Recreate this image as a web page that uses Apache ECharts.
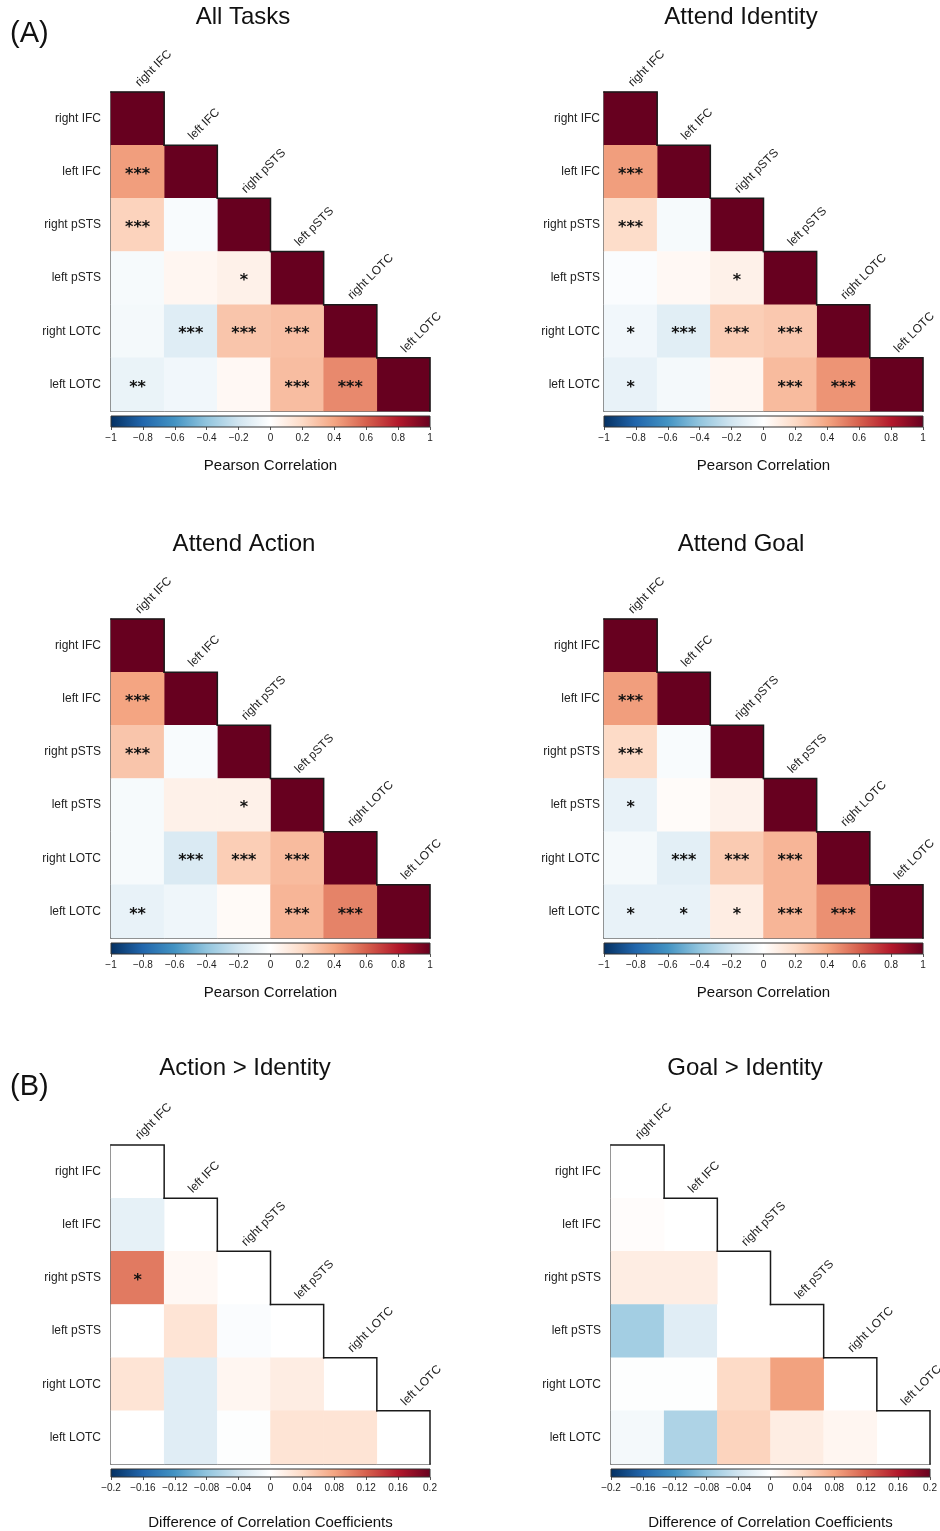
<!DOCTYPE html>
<html>
<head>
<meta charset="utf-8">
<title>ROI correlation matrices</title>
<script src="https://cdn.jsdelivr.net/npm/echarts@6/dist/echarts.min.js"></script>
<style>
  html, body { margin: 0; padding: 0; background: #fff; }
  #chart { width: 940px; height: 1531px; }
</style>
</head>
<body>
<div id="chart"></div>
<script>
// Regions of interest (rows top-to-bottom, columns left-to-right)
const regions = ['right IFC', 'left IFC', 'right pSTS', 'left pSTS', 'right LOTC', 'left LOTC'];

// Lower-triangle Pearson correlations: row k lists columns 0..k-1 (rows start at "left IFC")
const allTasksR = [
  [0.42],
  [0.23, -0.03],
  [-0.04, 0.05, 0.08],
  [-0.05, -0.14, 0.28, 0.30],
  [-0.09, -0.06, 0.04, 0.31, 0.48]
];
const allTasksSig = [['***'], ['***', ''], ['', '', '*'], ['', '***', '***', '***'], ['**', '', '', '***', '***']];

const identityR = [
  [0.42],
  [0.19, -0.04],
  [-0.02, 0.04, 0.08],
  [-0.06, -0.13, 0.25, 0.27],
  [-0.10, -0.05, 0.05, 0.32, 0.45]
];
const identitySig = [['***'], ['***', ''], ['', '', '*'], ['*', '***', '***', '***'], ['*', '', '', '***', '***']];

const actionR = [
  [0.40],
  [0.28, -0.03],
  [-0.04, 0.08, 0.08],
  [-0.04, -0.16, 0.25, 0.32],
  [-0.10, -0.07, 0.03, 0.34, 0.50]
];
const actionSig = [['***'], ['***', ''], ['', '', '*'], ['', '***', '***', '***'], ['**', '', '', '***', '***']];

const goalR = [
  [0.42],
  [0.20, -0.03],
  [-0.10, 0.02, 0.07],
  [-0.05, -0.12, 0.26, 0.34],
  [-0.10, -0.10, 0.10, 0.34, 0.46]
];
const goalSig = [['***'], ['***', ''], ['*', '', ''], ['', '***', '***', '***'], ['*', '*', '*', '***', '***']];

// Differences of correlation coefficients between task conditions
const actionMinusIdentity = [
  [-0.022],
  [0.105, 0.008],
  [0.0, 0.03, -0.004],
  [0.03, -0.027, 0.01, 0.02],
  [0.0, -0.027, -0.002, 0.03, 0.03]
];
const actionMinusIdentitySig = [[''], ['*', ''], ['', '', ''], ['', '', '', ''], ['', '', '', '', '']];

const goalMinusIdentity = [
  [0.003],
  [0.02, 0.02],
  [-0.069, -0.027, 0.0],
  [-0.002, -0.002, 0.04, 0.082],
  [-0.01, -0.062, 0.045, 0.02, 0.01]
];
const goalMinusIdentitySig = [[''], ['', ''], ['', '', ''], ['', '', '', ''], ['', '', '', '', '']];

// Colour-bar scales and their tick steps
const corrScale = [-1, 1];
const corrStep = 0.2;
const corrDiagonal = 1;
const diffScale = [-0.2, 0.2];
const diffStep = 0.04;
const diffDiagonal = 0;

// Diverging palette, negative to positive
const palette = ['#053061', '#2166AC', '#4393C3', '#92C5DE', '#D1E5F0', '#FFFFFF',
                 '#FDDBC7', '#F4A582', '#D6604D', '#B2182B', '#67001F'];

const FONT = '"Liberation Sans", Arial, Helvetica, sans-serif';

const panels = [
  { title: 'All Tasks', values: allTasksR, sig: allTasksSig, kind: 'corr',
    left: 111, top: 92, labelMargin: 10, titleX: 243, titleY: 17, cbTop: 416, nameGap: 31 },
  { title: 'Attend Identity', values: identityR, sig: identitySig, kind: 'corr',
    left: 604, top: 92, labelMargin: 4, titleX: 741, titleY: 17, cbTop: 416, nameGap: 31 },
  { title: 'Attend Action', values: actionR, sig: actionSig, kind: 'corr',
    left: 111, top: 619, labelMargin: 10, titleX: 244, titleY: 544, cbTop: 943, nameGap: 31 },
  { title: 'Attend Goal', values: goalR, sig: goalSig, kind: 'corr',
    left: 604, top: 619, labelMargin: 4, titleX: 741, titleY: 544, cbTop: 943, nameGap: 31 },
  { title: 'Action > Identity', values: actionMinusIdentity, sig: actionMinusIdentitySig, kind: 'diff',
    left: 111, top: 1145, labelMargin: 10, titleX: 245, titleY: 1068, cbTop: 1469, nameGap: 38 },
  { title: 'Goal > Identity', values: goalMinusIdentity, sig: goalMinusIdentitySig, kind: 'diff',
    left: 611, top: 1145, labelMargin: 10, titleX: 745, titleY: 1068, cbTop: 1469, nameGap: 38 }
];

const SIZE = 319;     // heat-map edge length
const BAR_H = 11;     // colour-bar thickness

function tickText(v) {
  const r = Math.round(v * 100) / 100;
  return String(r).replace('-', '\u2212');
}

function cellData(p) {
  const diag = p.kind === 'corr' ? corrDiagonal : diffDiagonal;
  const out = [];
  regions.forEach((_, i) => out.push({ value: [i, i, diag], sig: '' }));
  p.values.forEach((row, k) => {
    row.forEach((v, j) => out.push({ value: [j, k + 1, v], sig: p.sig[k][j] }));
  });
  return out;
}

// Staircase outline along the diagonal plus the slanted column names
function renderStairs(params, api) {
  const c = api.value(0);
  const ctr = api.coord([c, c]);
  const sz = api.size([1, 1]);
  const x0 = ctr[0] - sz[0] / 2, x1 = ctr[0] + sz[0] / 2;
  const y0 = ctr[1] - sz[1] / 2, y1 = ctr[1] + sz[1] / 2;
  return {
    type: 'group',
    children: [
      { type: 'polyline', shape: { points: [[x0, y0], [x1, y0], [x1, y1]] },
        style: { stroke: '#1a1a1a', lineWidth: 1.5, fill: null, lineCap: 'square' } },
      { type: 'text', x: ctr[0] + 4, y: y0 - 3, rotation: Math.PI / 4,
        style: { text: regions[c], fontSize: 12, fontFamily: FONT, fill: '#222',
                 align: 'left', verticalAlign: 'bottom' } }
    ]
  };
}

// Gradient colour bar spanning the scale
function renderBar(params, api) {
  const a = api.coord([api.value(0), 0]);
  const b = api.coord([api.value(1), 1]);
  const stops = palette.map((c, i) => ({ offset: i / (palette.length - 1), color: c }));
  return {
    type: 'rect',
    shape: { x: a[0], y: b[1], width: b[0] - a[0], height: a[1] - b[1] },
    style: { fill: new echarts.graphic.LinearGradient(0, 0, 1, 0, stops), stroke: '#333', lineWidth: 1 }
  };
}

const grid = [], xAxis = [], yAxis = [], series = [], graphic = [];
const corrSeries = [], diffSeries = [];

panels.forEach((p, i) => {
  const scale = p.kind === 'corr' ? corrScale : diffScale;
  const step = p.kind === 'corr' ? corrStep : diffStep;
  const gHeat = 2 * i, gBar = 2 * i + 1;

  grid.push({ left: p.left, top: p.top, width: SIZE, height: SIZE });
  grid.push({ left: p.left, top: p.cbTop, width: SIZE, height: BAR_H });

  xAxis.push({
    type: 'category', gridIndex: gHeat, data: regions,
    axisLine: { show: true, lineStyle: { color: '#444', width: 1.5 } },
    axisTick: { show: false }, axisLabel: { show: false }, splitLine: { show: false }
  });
  yAxis.push({
    type: 'category', gridIndex: gHeat, data: regions, inverse: true,
    axisLine: { show: true, lineStyle: { color: '#444', width: 1.5 } },
    axisTick: { show: false }, splitLine: { show: false },
    axisLabel: { fontSize: 12, color: '#222', fontFamily: FONT, margin: p.labelMargin }
  });

  xAxis.push({
    type: 'value', gridIndex: gBar, min: scale[0], max: scale[1], interval: step,
    axisLine: { show: false }, splitLine: { show: false },
    axisTick: { show: true, length: 3, lineStyle: { color: '#555', width: 1 } },
    axisLabel: { fontSize: 10, color: '#222', fontFamily: FONT, margin: 6, formatter: tickText },
    name: p.kind === 'corr' ? 'Pearson Correlation' : 'Difference of Correlation Coefficients',
    nameLocation: 'middle', nameGap: p.nameGap,
    nameTextStyle: { fontSize: 15, color: '#111', fontFamily: FONT }
  });
  yAxis.push({ type: 'value', gridIndex: gBar, min: 0, max: 1, show: false });

  const heatIndex = series.length;
  (p.kind === 'corr' ? corrSeries : diffSeries).push(heatIndex);
  series.push({
    type: 'heatmap', xAxisIndex: gHeat, yAxisIndex: gHeat,
    data: cellData(p),
    label: {
      show: true, fontSize: 16, fontWeight: 'bold', color: '#111',
      fontFamily: '"DejaVu Sans", sans-serif', offset: [0, 3],
      formatter: (prm) => prm.data.sig
    },
    emphasis: { disabled: true },
    silent: true
  });
  series.push({
    type: 'custom', xAxisIndex: gHeat, yAxisIndex: gHeat,
    data: regions.map((_, k) => [k, k]),
    renderItem: renderStairs, clip: false, z: 5, silent: true
  });
  series.push({
    type: 'custom', xAxisIndex: gBar, yAxisIndex: gBar,
    data: [[scale[0], scale[1]]],
    renderItem: renderBar, clip: false, silent: true
  });

  graphic.push({
    type: 'text', x: p.titleX, y: p.titleY,
    style: { text: p.title, fontSize: 24, fontFamily: FONT, fill: '#111', align: 'center', verticalAlign: 'middle' }
  });
});

graphic.push({ type: 'text', x: 10, y: 34,
  style: { text: '(A)', fontSize: 29, fontFamily: FONT, fill: '#111', align: 'left', verticalAlign: 'middle' } });
graphic.push({ type: 'text', x: 10, y: 1087,
  style: { text: '(B)', fontSize: 29, fontFamily: FONT, fill: '#111', align: 'left', verticalAlign: 'middle' } });

const chart = echarts.init(document.getElementById('chart'), null, { renderer: 'canvas' });
chart.setOption({
  backgroundColor: '#fff',
  animation: false,
  grid, xAxis, yAxis, series, graphic,
  visualMap: [
    { type: 'continuous', show: false, min: corrScale[0], max: corrScale[1], dimension: 2,
      seriesIndex: corrSeries, inRange: { color: palette } },
    { type: 'continuous', show: false, min: diffScale[0], max: diffScale[1], dimension: 2,
      seriesIndex: diffSeries, inRange: { color: palette } }
  ]
});
</script>
</body>
</html>
